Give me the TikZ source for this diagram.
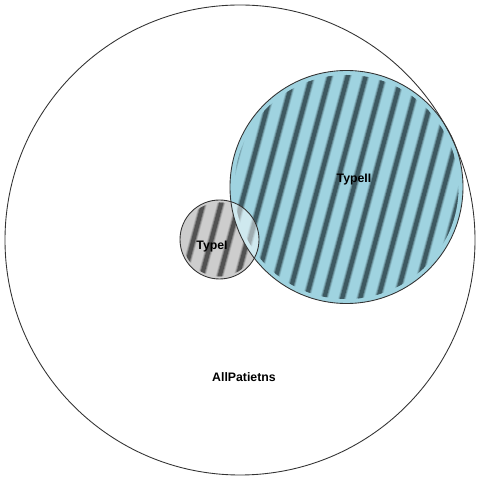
\documentclass[tikz,border=0pt]{standalone}
\usepackage{fontspec}
\setmainfont{Liberation Sans}
\usetikzlibrary{calc}
\definecolor{blueII}{HTML}{9FD3E0}
\definecolor{grayI}{HTML}{CDCDCD}
\definecolor{stripeII}{HTML}{3E5961}
\definecolor{stripeI}{HTML}{525252}
\tikzset{
	setlabel/.style={font=\fontsize{7}{8}\selectfont\bfseries},
	rim/.style={line width=0.5pt, draw=black!80},
}
\begin{document}
\begin{tikzpicture}[x=0.02cm, y=0.02cm, line join=round, line cap=round]
	\useasboundingbox (0,0) rectangle (480,480);
	% Tâm các tập
	\coordinate (All) at (240,240);
	\coordinate (T1) at (219.5,240.5);
	\coordinate (T2) at (346.5,293);
	% Tập TypeI
	\fill[grayI] (T1) circle (39.5);
	\begin{scope}
		\clip (T1) circle (37);
		\foreach \k in {-4,...,4}
		\foreach \w/\o in {4.4pt/.2, 3.4pt/.45, 2.3pt/1}
		\draw[stripeI, line width=\w, opacity=\o] ($(T1)+(\k*18+10,0)$) ++(75:50) -- ++(255:100);
	\end{scope}
	% Tập TypeII
	\fill[blueII] (T2) circle (116.5);
	\begin{scope}
		\clip (T2) circle (112);
		\foreach \k in {-8,...,8}
		\foreach \w/\o in {4.4pt/.2, 3.4pt/.45, 2.3pt/1}
		\draw[stripeII, line width=\w, opacity=\o] ($(T2)+(\k*18+7.5,0)$) ++(75:130) -- ++(255:260);
	\end{scope}
	% Phần giao
	\begin{scope}
		\clip (T1) circle (39.5);
		\fill[white, opacity=.5] (T2) circle (116.5);
	\end{scope}
	% Đường biên
	\draw[rim] (All) circle (235);
	\draw[rim] (T2) circle (116.5);
	\draw[rim] (T1) circle (39.5);
	% Nhãn
	\node[setlabel] (lT2) at (354,300) {TypeII};
	\node[setlabel] (lT1) at (212,233) {TypeI};
	\node[setlabel] (lAll) at (244,103) {AllPatietns};
\end{tikzpicture}
\end{document}
